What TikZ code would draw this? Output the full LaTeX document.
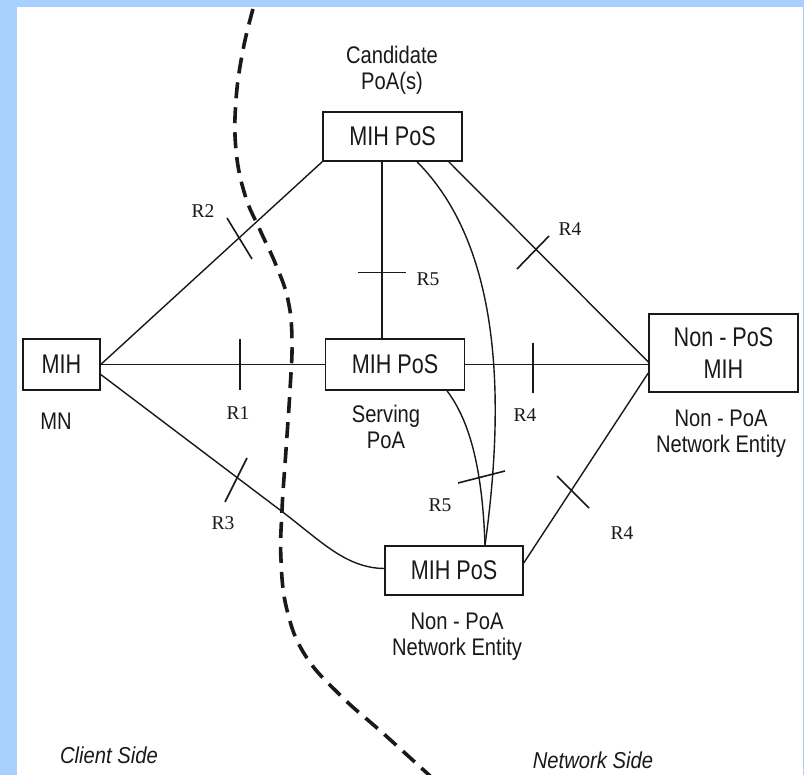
\documentclass[tikz,border=0pt]{standalone}
\usepackage{fontspec}
\setmainfont{Liberation Sans}
\newfontfamily\boxf[FakeStretch=0.8]{Liberation Sans}
\newfontfamily\labf[FakeStretch=0.84]{Liberation Sans}
\newfontfamily\sidef[FakeStretch=0.88]{Liberation Sans}
\newfontfamily\rf{Liberation Serif}
\definecolor{frameblue}{RGB}{168,208,255}
\definecolor{ink}{RGB}{25,25,25}
\begin{document}
\begin{tikzpicture}[x=1pt,y=-1pt,
  box/.style={draw=ink, line width=1.5pt, inner sep=0pt, align=center, text=ink,
              font=\boxf\fontsize{27}{32}\selectfont},
  lab/.style={font=\labf\fontsize{24}{26}\selectfont, align=center, inner sep=0pt, text=ink},
  rlab/.style={font=\rf\fontsize{19.5}{20}\selectfont, inner sep=0pt, text=ink},
  side/.style={font=\sidef\itshape\fontsize{23}{26}\selectfont, inner sep=0pt, text=ink},
  conn/.style={draw=ink, line width=1.4pt},
  tickmark/.style={draw=ink, line width=1.6pt},
  divider/.style={draw=ink, line width=3.6pt, dash pattern=on 16pt off 9pt}
]
\useasboundingbox (0,0) rectangle (804,775);
\fill[frameblue] (0,0) rectangle (804,775);
\fill[white] (17,7) rectangle (802.5,775);

% boxes
\node[box, minimum width=77pt, minimum height=51pt] (mn) at (61.5,364.5) {MIH};
\node[box, minimum width=139pt, minimum height=49pt] (cand) at (392.5,136.5) {MIH PoS};
\node[box, minimum width=139pt, minimum height=51pt] (serv) at (395,364.5) {MIH PoS};
\node[box, minimum width=149pt, minimum height=78pt] (np) at (723.5,353) {Non - PoS\\MIH};
\node[box, minimum width=138pt, minimum height=49pt] (bot) at (454,570.5) {MIH PoS};

% labels
\node[lab] (lcand) at (392,70) {Candidate\\PoA(s)};
\node[lab] (lmn) at (56,421) {MN};
\node[lab] (lserv) at (386,427) {Serving\\PoA};
\node[lab] (lnp) at (721,434) {Non - PoA\\Network Entity};
\node[lab] (lbot) at (457,637) {Non - PoA\\Network Entity};
\node[side] (lclient) at (109,755) {Client Side};
\node[side] (lnet) at (593,760) {Network Side};

% helper coordinates
\coordinate (v5) at (382,0);
\coordinate (k3) at (280,510);

% connectors
\draw[conn] (mn.east) -- (cand.south west);
\draw[conn] (mn.east) -- (serv.west);
\draw[conn] ([yshift=-10pt]mn.east) -- (k3) .. controls (320,540) and (345,568) .. ([yshift=2pt]bot.west);
\draw[conn] (cand.south -| v5) -- (serv.north -| v5);
\draw[conn] ([xshift=24.5pt]cand.south) .. controls (495,240) and (508,380) .. ([xshift=31pt]bot.north);
\draw[conn] ([xshift=52pt]serv.south) .. controls (465,415) and (482,455) .. ([xshift=31pt]bot.north);
\draw[conn] ([xshift=-14pt]cand.south east) -- ([yshift=-9pt]np.west);
\draw[conn] (serv.east) -- (serv.east -| np.west);
\draw[conn] ([yshift=7.5pt]bot.east) -- ([yshift=-20pt]np.west);

% reference point ticks
\draw[tickmark] (227,218) -- (252,259);
\draw[tickmark] (240,339) -- (240,390);
\draw[tickmark] (225,502) -- (247,458);
\draw[tickmark] (358,272.5) -- (406,272.5);
\draw[tickmark] (517,269) -- (549,236);
\draw[tickmark] (533,343) -- (533,393);
\draw[tickmark] (557,476) -- (589,508);
\draw[tickmark] (458,483) -- (505,471);

\node[rlab] (r2) at (203,211) {R2};
\node[rlab] (r1) at (238,413) {R1};
\node[rlab] (r3) at (223,523) {R3};
\node[rlab] (r5a) at (428,279) {R5};
\node[rlab] (r4a) at (570,229) {R4};
\node[rlab] (r4b) at (525,415) {R4};
\node[rlab] (r4c) at (622,533) {R4};
\node[rlab] (r5b) at (440,505) {R5};

% client / network divider
\begin{scope}
\clip (17,7) rectangle (802.5,775);
\draw[divider] plot[smooth, tension=0.7] coordinates {
  (253,9) (243,50) (236,100) (236,150) (245,195) (260,230) (276,265) (288,300)
  (292,340) (290,390) (286,450) (282,510) (281,560) (287,610) (305,655)
  (340,695) (385,735) (440,785)};
\end{scope}
\end{tikzpicture}
\end{document}
